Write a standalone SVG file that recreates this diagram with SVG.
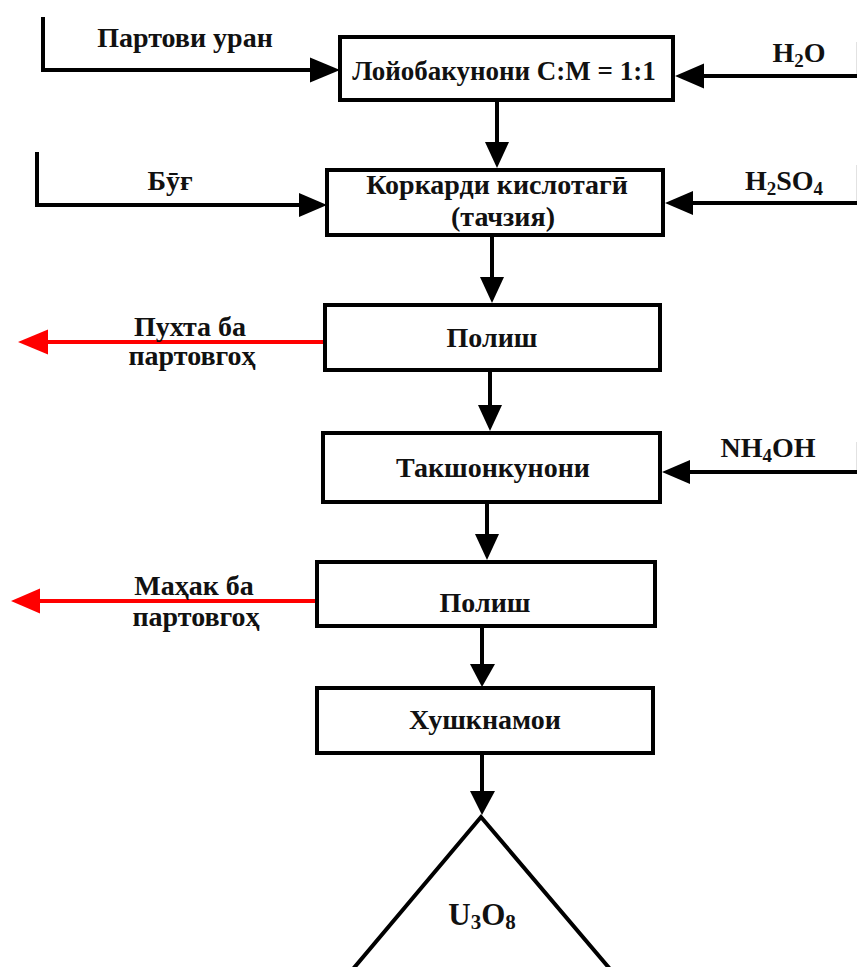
<svg xmlns="http://www.w3.org/2000/svg" width="857" height="967" viewBox="0 0 857 967">
  <style>
    .box { fill: #fff; stroke: #000; stroke-width: 4; }
    .line { fill: none; stroke: #000; stroke-width: 4; }
    .stub { fill: none; stroke: #e2e2e2; stroke-width: 1; }
    .red { fill: none; stroke: #f00; stroke-width: 4; }
    .lbl { font-family: "Liberation Serif", "Times New Roman", serif; font-weight: bold; font-size: 28px; fill: #111; text-anchor: middle; }
    .sub { font-size: 19px; }
    .head { fill: #000; }
    .rhead { fill: #f00; }
  </style>
  <rect width="857" height="967" fill="#fff"/>

  <!-- connectors -->
  <g id="connectors">
    <!-- feed lines -->
    <path class="line" d="M43,17 V70 H312"/>
    <polygon class="head" points="340,70 310,57.5 310,82.5"/>
    <path class="line" d="M857,76 H700"/>
    <line class="stub" x1="856.5" y1="42" x2="856.5" y2="74"/>
    <polygon class="head" points="675,76 704,63.5 704,88.5"/>

    <path class="line" d="M37,152 V205 H300"/>
    <polygon class="head" points="327,205 299,193 299,217"/>
    <path class="line" d="M857,203 H690"/>
    <line class="stub" x1="856.5" y1="165" x2="856.5" y2="201"/>
    <polygon class="head" points="665,203 693,191 693,215"/>

    <path class="line" d="M857,472 H688"/>
    <line class="stub" x1="856.5" y1="442" x2="856.5" y2="470"/>
    <polygon class="head" points="662,472 690,460 690,484"/>

    <!-- main chain -->
    <path class="line" d="M497,100 V145"/>
    <polygon class="head" points="497,168 485,142 509,142"/>
    <path class="line" d="M492,235 V280"/>
    <polygon class="head" points="492,303 480,277 504,277"/>
    <path class="line" d="M490,370 V408"/>
    <polygon class="head" points="490,431 478,405 502,405"/>
    <path class="line" d="M487,502 V538"/>
    <polygon class="head" points="487,560 475,534 499,534"/>
    <path class="line" d="M482,626 V668"/>
    <polygon class="head" points="482,687 470,664 495,664"/>
    <path class="line" d="M482,753 V795"/>
    <polygon class="head" points="482,815 470,791 495,791"/>

    <!-- waste outlets -->
    <path class="red" d="M325,342 H45"/>
    <polygon class="rhead" points="18,342 48,329.5 48,354.5"/>
    <path class="red" d="M317,601 H38"/>
    <polygon class="rhead" points="11,601 40,588.5 40,613.5"/>
  </g>

  <!-- inflow / outflow labels -->
  <g id="labels">
    <text class="lbl" x="185" y="47">Партови уран</text>
    <text class="lbl" x="799" y="62">H<tspan class="sub" dy="5">2</tspan><tspan dy="-5">O</tspan></text>
    <text class="lbl" x="170" y="190">Бӯғ</text>
    <text class="lbl" x="784" y="190">H<tspan class="sub" dy="5">2</tspan><tspan dy="-5">SO</tspan><tspan class="sub" dy="5">4</tspan></text>
    <text class="lbl" x="768" y="457">NH<tspan class="sub" dy="5">4</tspan><tspan dy="-5">OH</tspan></text>
    <text class="lbl" x="190" y="336">Пухта ба</text>
    <text class="lbl" x="192" y="365">партовгоҳ</text>
    <text class="lbl" x="194" y="595">Маҳак ба</text>
    <text class="lbl" x="196" y="626">партовгоҳ</text>
  </g>

  <g id="n1">
    <rect class="box" x="340" y="37" width="333" height="63"/>
    <text class="lbl" x="504" y="80" style="font-size:27px">Лойобакунони С:М = 1:1</text>
  </g>
  <g id="n2">
    <rect class="box" x="327" y="170" width="336" height="65"/>
    <text class="lbl" x="497" y="194">Коркарди кислотагӣ</text>
    <text class="lbl" x="503" y="226">(тачзия)</text>
  </g>
  <g id="n3">
    <rect class="box" x="325" y="305" width="335" height="65"/>
    <text class="lbl" x="492" y="347">Полиш</text>
  </g>
  <g id="n4">
    <rect class="box" x="323" y="433" width="337" height="69"/>
    <text class="lbl" x="493" y="477">Такшонкунони</text>
  </g>
  <g id="n5">
    <rect class="box" x="317" y="562" width="338" height="64"/>
    <text class="lbl" x="485" y="612">Полиш</text>
  </g>
  <g id="n6">
    <rect class="box" x="317" y="688" width="336" height="65"/>
    <text class="lbl" x="485" y="729">Хушкнамои</text>
  </g>
  <g id="n7">
    <polygon class="box" points="481,817 353,969 610,969" stroke-width="5" stroke-linejoin="miter"/>
    <text class="lbl" x="482" y="925" style="font-size:31px">U<tspan class="sub" dy="4" style="font-size:21px">3</tspan><tspan dy="-4">O</tspan><tspan class="sub" dy="4" style="font-size:21px">8</tspan></text>
  </g>
</svg>
